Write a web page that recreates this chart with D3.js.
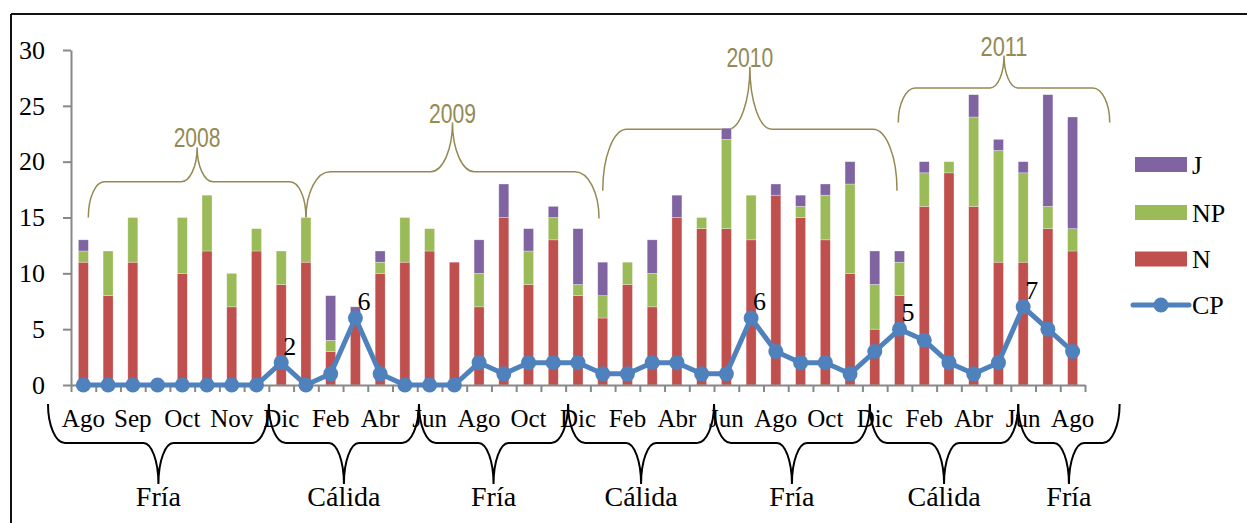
<!DOCTYPE html>
<html>
<head>
<meta charset="utf-8">
<script src="https://cdn.jsdelivr.net/npm/d3@7"></script>
<style>
  html, body { margin: 0; padding: 0; background: #fff; }
  svg { display: block; }
</style>
</head>
<body>
<svg id="chart" width="1247" height="523"></svg>
<script>
// Monthly samples, Aug 2008 – Aug 2011 (2008 sampled twice a month)
const categories = ["Ago","Ago","Sep","Sep","Oct","Oct","Nov","Nov",
  "Dic","Ene","Feb","Mar","Abr","May","Jun","Jul","Ago","Sep","Oct","Nov",
  "Dic","Ene","Feb","Mar","Abr","May","Jun","Jul","Ago","Sep","Oct","Nov",
  "Dic","Ene","Feb","Mar","Abr","May","Jun","Jul","Ago"];

const seriesN  = [11,8,11,0,10,12,7,12,9,11,3,6,10,11,12,11,7,15,9,13,8,6,9,7,15,14,14,13,17,15,13,10,5,8,16,19,16,11,11,14,12];
const seriesNP = [1,4,4,0,5,5,3,2,3,4,1,0,1,4,2,0,3,0,3,2,1,2,2,3,0,1,8,4,0,1,4,8,4,3,3,1,8,10,8,2,2];
const seriesJ  = [1,0,0,0,0,0,0,0,0,0,4,1,1,0,0,0,3,3,2,1,5,3,0,3,2,0,1,0,1,1,1,2,3,1,1,0,2,1,1,10,10];
const seriesCP = [0,0,0,0,0,0,0,0,2,0,1,6,1,0,0,0,2,1,2,2,2,1,1,2,2,1,1,6,3,2,2,1,3,5,4,2,1,2,7,5,3];

// CP points that carry a value label
const labelledCP = [8, 11, 27, 33, 38];

const yTicks = [0, 5, 10, 15, 20, 25, 30];

const years = ["2008", "2009", "2010", "2011"];
const seasons = ["Fría", "Cálida", "Fría", "Cálida", "Fría", "Cálida", "Fría"];

const colors = { N: "#C0504D", NP: "#9BBB59", J: "#8064A2", CP: "#4F81BD" };
const serif = "'Liberation Serif', 'Times New Roman', serif";
const sans = "'Liberation Sans Narrow', 'Liberation Sans', Arial, sans-serif";

const svg = d3.select("#chart");

// frame lines
svg.append("line").attr("x1", 11).attr("x2", 1247).attr("y1", 14).attr("y2", 14)
  .attr("stroke", "#111").attr("stroke-width", 2);
svg.append("line").attr("x1", 11).attr("x2", 11).attr("y1", 14).attr("y2", 523)
  .attr("stroke", "#111").attr("stroke-width", 2);

const x = d3.scaleBand().domain(d3.range(categories.length))
  .range([71, 1085]).paddingInner(0.596).paddingOuter(0.298);
const y = d3.scaleLinear().domain([0, 30]).range([385, 50]);

// centre of a (possibly fractional) category position
const cx = t => x(0) + x.bandwidth() / 2 + t * x.step();

// curly brace: ends at yEnd, straight run at yH, point at yTip
function bracePath(x0, x1, yEnd, yH, yTip, rc, rt) {
  const xm = (x0 + x1) / 2;
  const up = yH < yEnd;
  const se = up ? 1 : 0, st = up ? 0 : 1;
  const de = Math.abs(yEnd - yH), dt = Math.abs(yH - yTip);
  return `M${x0},${yEnd}` +
    `A${rc},${de} 0 0 ${se} ${x0 + rc},${yH}` +
    `L${xm - rt},${yH}` +
    `A${rt},${dt} 0 0 ${st} ${xm},${yTip}` +
    `A${rt},${dt} 0 0 ${st} ${xm + rt},${yH}` +
    `L${x1 - rc},${yH}` +
    `A${rc},${de} 0 0 ${se} ${x1},${yEnd}`;
}

// year braces above the bars
const yearBraces = [
  { from: 0.2,  to: 9.0,  end: 15.0, run: 18.2, tip: 21.3, rc: 16, rt: 16 },
  { from: 9.0,  to: 20.85, end: 14.9, run: 19.1, tip: 23.5, rc: 24, rt: 22 },
  { from: 21.0, to: 32.9, end: 17.4, run: 22.9, tip: 28.5, rc: 24, rt: 22 },
  { from: 32.95, to: 41.5, end: 23.5, run: 26.6, tip: 29.5, rc: 17, rt: 14 }
];
const yb = svg.append("g");
yearBraces.forEach((b, i) => {
  const x0 = cx(b.from), x1 = cx(b.to);
  yb.append("path")
    .attr("d", bracePath(x0, x1, y(b.end), y(b.run), y(b.tip), b.rc, b.rt))
    .attr("fill", "none").attr("stroke", "#948A54").attr("stroke-width", 1.5);
  yb.append("text").attr("x", (x0 + x1) / 2).attr("y", y(b.tip))
    .attr("text-anchor", "middle").attr("font-family", sans).attr("font-size", 27)
    .attr("textLength", 47).attr("lengthAdjust", "spacingAndGlyphs")
    .attr("fill", "#948A54").text(years[i]);
});

// stacked bars
const rows = categories.map((c, i) => ({ N: seriesN[i], NP: seriesNP[i], J: seriesJ[i] }));
const stack = d3.stack().keys(["N", "NP", "J"])(rows);
svg.append("g").selectAll("g").data(stack).join("g")
  .attr("fill", d => colors[d.key])
  .selectAll("rect").data(d => d.map((v, i) => ({ v, i }))).join("rect")
  .attr("x", d => x(d.i)).attr("width", x.bandwidth())
  .attr("y", d => y(d.v[1])).attr("height", d => y(d.v[0]) - y(d.v[1]))
  .attr("stroke", "rgba(255,255,255,0.5)").attr("stroke-width", 0.6);

// y axis
const yAxis = svg.append("g").attr("transform", "translate(71,0)")
  .call(d3.axisLeft(y).tickValues(yTicks).tickSize(8).tickSizeOuter(0).tickPadding(18));
yAxis.select(".domain").attr("stroke", "#888").attr("stroke-width", 2);
yAxis.selectAll(".tick line").attr("stroke", "#888").attr("stroke-width", 2);
yAxis.selectAll(".tick text").attr("font-family", serif).attr("font-size", 26).attr("fill", "#000");

// x axis: ticks between categories
const xEdges = d3.scaleLinear().domain([0, categories.length]).range([71, 1085]);
const xAxis = svg.append("g").attr("transform", "translate(0,385)")
  .call(d3.axisBottom(xEdges).tickValues(d3.range(categories.length + 1))
    .tickFormat("").tickSize(7).tickSizeOuter(0));
xAxis.select(".domain").attr("stroke", "#888").attr("stroke-width", 2);
xAxis.selectAll(".tick line").attr("stroke", "#888").attr("stroke-width", 2);

// category labels, every second sample
svg.append("g").selectAll("text")
  .data(categories.map((c, i) => ({ c, i })).filter(d => d.i % 2 === 0))
  .join("text")
  .attr("x", d => cx(d.i)).attr("y", 427).attr("text-anchor", "middle")
  .attr("font-family", serif).attr("font-size", 25).attr("fill", "#000")
  .text(d => d.c);

// CP line with markers
const line = d3.line().x((d, i) => cx(i)).y(d => y(d));
svg.append("path").datum(seriesCP).attr("d", line)
  .attr("fill", "none").attr("stroke", colors.CP).attr("stroke-width", 5)
  .attr("stroke-linejoin", "round");
svg.append("g").selectAll("circle").data(seriesCP).join("circle")
  .attr("cx", (d, i) => cx(i)).attr("cy", d => y(d)).attr("r", 7.5)
  .attr("fill", colors.CP);
svg.append("g").selectAll("text").data(labelledCP).join("text")
  .attr("x", i => cx(i) + 2).attr("y", i => y(seriesCP[i]) - 8)
  .attr("font-family", serif).attr("font-size", 26).attr("fill", "#000")
  .text(i => seriesCP[i]);

// season braces below the axis
const seasonEdges = [-1.43, 7.5, 13.57, 19.6, 25.5, 31.8, 37.8, 41.9];
const sb = svg.append("g");
seasons.forEach((s, i) => {
  const x0 = cx(seasonEdges[i]), x1 = cx(seasonEdges[i + 1]);
  sb.append("path").attr("d", bracePath(x0, x1, 404, 443, 484, 17, 15))
    .attr("fill", "none").attr("stroke", "#000").attr("stroke-width", 2);
  sb.append("text").attr("x", (x0 + x1) / 2).attr("y", 506).attr("text-anchor", "middle")
    .attr("font-family", serif).attr("font-size", 28).attr("fill", "#000").text(s);
});

// legend
const legend = svg.append("g");
const legendItems = ["J", "NP", "N"];
const legendY = [164.5, 212.5, 259];
legendItems.forEach((k, i) => {
  legend.append("rect").attr("x", 1135).attr("y", legendY[i] - 7.5)
    .attr("width", 52).attr("height", 15).attr("fill", colors[k]);
  legend.append("text").attr("x", 1192).attr("y", legendY[i] + 9)
    .attr("font-family", serif).attr("font-size", 26).attr("fill", "#000").text(k);
});
legend.append("line").attr("x1", 1133).attr("x2", 1189).attr("y1", 305).attr("y2", 305)
  .attr("stroke", colors.CP).attr("stroke-width", 5).attr("stroke-linecap", "round");
legend.append("circle").attr("cx", 1161).attr("cy", 305).attr("r", 7.5).attr("fill", colors.CP);
legend.append("text").attr("x", 1192).attr("y", 314)
  .attr("font-family", serif).attr("font-size", 26).attr("fill", "#000").text("CP");
</script>
</body>
</html>
